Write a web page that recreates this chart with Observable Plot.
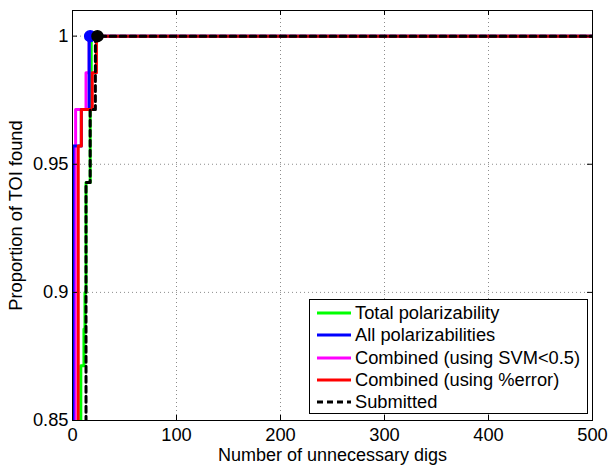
<!DOCTYPE html>
<html>
<head>
<meta charset="utf-8">
<script src="https://cdn.jsdelivr.net/npm/d3@7"></script>
<script src="https://cdn.jsdelivr.net/npm/@observablehq/plot@0.6"></script>
<style>
  body { margin: 0; background: #fff; }
  #chart { position: relative; width: 609px; height: 467px; font-family: "Liberation Sans", Arial, Helvetica, sans-serif; color: #000; }
  #legend { position: absolute; left: 309px; top: 299px; width: 277px; height: 113px; border: 1px solid #000; background: #fff; }
  .row { position: absolute; left: 0; height: 22px; display: flex; align-items: center; font-size: 18.3px; white-space: nowrap; }
  .row svg { margin-left: 7px; margin-right: 4px; }
</style>
</head>
<body>
<div id="chart"><div id="legend"></div></div>
<script>
// Series labels and styles
const seriesNames = ["Total polarizability", "All polarizabilities", "Combined (using SVM<0.5)", "Combined (using %error)", "Submitted"];
const seriesColors = ["#00ff00", "#0000ff", "#ff00ff", "#ff0000", "#000000"];
const seriesDash = [null, null, null, null, "6,4"];

// Step points: number of unnecessary digs at which the proportion of TOI found changes
const totalX = [0, 8, 11, 12, 13, 17, 18, 500];
const totalY = [0.8, 0.8714, 0.8857, 0.9, 0.9429, 0.9857, 1, 1];
const allX = [0, 0.5, 8.5, 16, 500];
const allY = [0.8, 0.9571, 0.9714, 1, 1];
const svmX = [0, 2.5, 3, 13, 16, 500];
const svmY = [0.8, 0.9571, 0.9714, 0.9857, 1, 1];
const errX = [0, 5.5, 8.5, 19, 23, 500];
const errY = [0.8, 0.9571, 0.9714, 0.9857, 1, 1];
const subX = [0, 13, 17, 22, 500];
const subY = [0.8, 0.9429, 0.9714, 1, 1];

// Circle markers
const markerSeries = [1, 4];
const markerX = [17, 24];
const markerY = [1, 1];

// Axes
const xTicks = [0, 100, 200, 300, 400, 500];
const yTicks = [0.85, 0.9, 0.95, 1];
const xDomain = [0, 500];
const yDomain = [0.85, 1.01];
const xLabel = "Number of unnecessary digs";
const yLabel = "Proportion of TOI found";

const W = 609, H = 467, mL = 72, mR = 17, mT = 10, mB = 47;
const innerW = W - mL - mR, innerH = H - mT - mB, tickLen = 5;

const toRows = (xs, ys) => xs.map((x, i) => ({x, y: ys[i]}));
const series = [toRows(totalX, totalY), toRows(allX, allY), toRows(svmX, svmY), toRows(errX, errY), toRows(subX, subY)];
const drawOrder = [0, 2, 1, 3, 4];
const markers = markerSeries.map((s, i) => ({x: markerX[i], y: markerY[i], color: seriesColors[s]}));

const gridStyle = {stroke: "#8c8c8c", strokeOpacity: 1, strokeDasharray: "1,3"};

const chart = Plot.plot({
  width: W, height: H,
  marginLeft: mL, marginRight: mR, marginTop: mT, marginBottom: mB,
  style: {fontFamily: '"Liberation Sans", Arial, Helvetica, sans-serif', fontSize: "18px", background: "#fff", color: "#000"},
  x: {domain: xDomain},
  y: {domain: yDomain},
  marks: [
    Plot.gridX(xTicks.slice(1, -1), gridStyle),
    Plot.gridY(yTicks.slice(1), gridStyle),
    ...drawOrder.map(i => Plot.line(series[i], {
      x: "x", y: "y", curve: "step-after", clip: true,
      stroke: seriesColors[i], strokeWidth: 3, strokeDasharray: seriesDash[i]
    })),
    Plot.dot(markers, {x: "x", y: "y", r: 5.5, fill: "color", stroke: "color"}),
    Plot.tickX(xTicks, {x: d => d, insetTop: innerH - tickLen, stroke: "#000"}),
    Plot.tickX(xTicks, {x: d => d, insetBottom: innerH - tickLen, stroke: "#000"}),
    Plot.tickY(yTicks, {y: d => d, insetRight: innerW - tickLen, stroke: "#000"}),
    Plot.tickY(yTicks, {y: d => d, insetLeft: innerW - tickLen, stroke: "#000"}),
    Plot.frame({stroke: "#000"}),
    Plot.axisX(xTicks, {tickSize: 0, tickPadding: 7, label: null, fontSize: 18.3, tickFormat: d => String(d)}),
    Plot.axisY(yTicks, {tickSize: 0, tickPadding: 4, label: null, fontSize: 18.3, tickFormat: d => String(d)}),
    Plot.text([xLabel], {text: d => d, frameAnchor: "bottom", dy: 35, textAnchor: "middle", lineAnchor: "middle", fontSize: 18})
    ,
    Plot.text([yLabel], {text: d => d, frameAnchor: "left", dx: -56, rotate: -90, textAnchor: "middle", lineAnchor: "middle", fontSize: 18.3})
  ]
});
document.getElementById("chart").prepend(chart);

// Legend
const legend = document.getElementById("legend");
seriesNames.forEach((name, i) => {
  const row = document.createElement("div");
  row.className = "row";
  row.style.top = (2 + i * 22.3) + "px";
  const dash = seriesDash[i] ? ` stroke-dasharray="${seriesDash[i]}"` : "";
  row.innerHTML = `<svg width="34" height="6"><line x1="0" y1="3" x2="34" y2="3" stroke="${seriesColors[i]}" stroke-width="3"${dash}/></svg>`;
  const label = document.createElement("span");
  label.textContent = name;
  row.appendChild(label);
  legend.appendChild(row);
});
</script>
</body>
</html>
